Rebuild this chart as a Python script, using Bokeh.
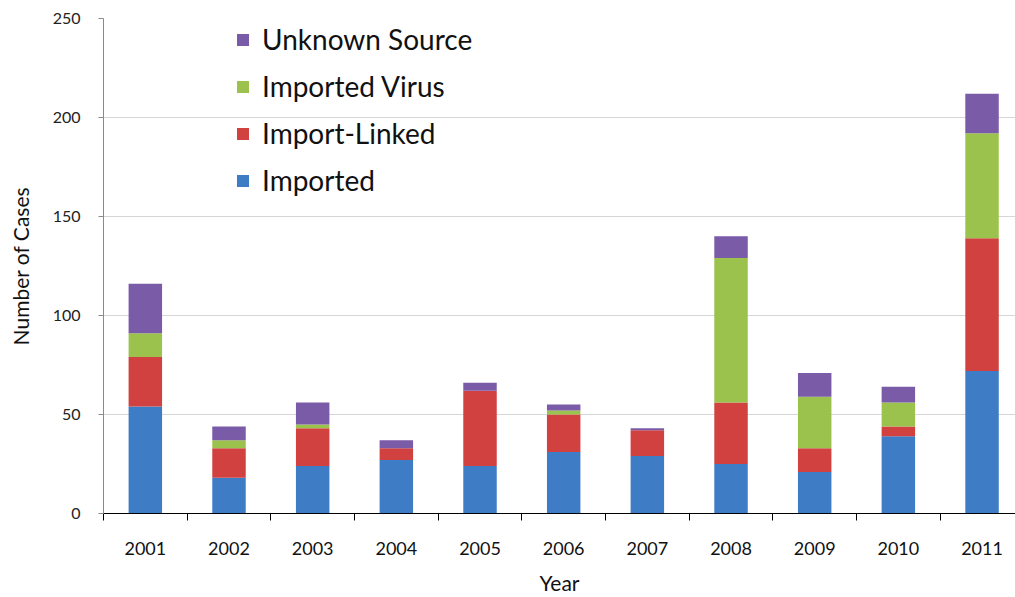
from bokeh.plotting import figure
from bokeh.models import Range1d, FixedTicker, Legend, LegendItem, ColumnDataSource
from bokeh.embed import file_html
from bokeh.resources import INLINE

years = ["2001", "2002", "2003", "2004", "2005", "2006", "2007", "2008", "2009", "2010", "2011"]
imported = [54, 18, 24, 27, 24, 31, 29, 25, 21, 39, 72]
import_linked = [25, 15, 19, 6, 38, 19, 13, 31, 12, 5, 67]
imported_virus = [12, 4, 2, 0, 0, 2, 0, 73, 26, 12, 53]
unknown_source = [25, 7, 11, 4, 4, 3, 1, 11, 12, 8, 20]
series_names = ["Imported", "Import-Linked", "Imported Virus", "Unknown Source"]
y_ticks = [0, 50, 100, 150, 200, 250]

colors = ["#3f7cc6", "#d0413f", "#9bc24c", "#7a5ba8"]
FONT = "Lato"

x = [i + 1 for i in range(len(years))]
src = ColumnDataSource(dict(x=x, imported=imported, import_linked=import_linked,
                            imported_virus=imported_virus, unknown_source=unknown_source))

p = figure(width=1015, height=597, output_backend="svg", toolbar_location=None,
           x_range=Range1d(0.5, 11.4), y_range=Range1d(0, 250),
           min_border_left=103, min_border_right=0, min_border_top=18, min_border_bottom=84)
p.outline_line_color = None
p.background_fill_color = "white"

stack = ["imported", "import_linked", "imported_virus", "unknown_source"]
rs = p.vbar_stack(stack, x="x", width=0.4, color=colors, line_color=None, source=src)

items = [LegendItem(label=series_names[i], renderers=[rs[i]]) for i in range(3, -1, -1)]
legend = Legend(items=items, location=(132, 316))
legend.background_fill_alpha = 0
legend.border_line_color = None
legend.label_text_font = FONT
legend.label_text_font_size = "28px"
legend.label_text_color = "#111111"
legend.glyph_width = 15
legend.glyph_height = 15
legend.label_standoff = 12
legend.spacing = 13
legend.padding = 0
legend.margin = 0
p.add_layout(legend)

# Y axis
p.yaxis.ticker = FixedTicker(ticks=y_ticks, minor_ticks=[])
p.yaxis.axis_line_color = "#8a8a8a"
p.yaxis.major_tick_line_color = "#8a8a8a"
p.yaxis.major_tick_out = 5
p.yaxis.major_tick_in = 0
p.yaxis.minor_tick_out = 0
p.yaxis.major_label_standoff = 18
p.yaxis.major_label_text_font = FONT
p.yaxis.major_label_text_font_size = "16px"
p.yaxis.major_label_text_color = "#222222"
p.yaxis.axis_label = "Number of Cases"
p.yaxis.axis_label_text_font = FONT
p.yaxis.axis_label_text_font_style = "normal"
p.yaxis.axis_label_text_font_size = "21px"
p.yaxis.axis_label_text_color = "#111111"
p.yaxis.axis_label_standoff = 17

# X axis
boundaries = [i + 0.5 for i in range(len(years) + 1)]
p.xaxis.ticker = FixedTicker(ticks=x, minor_ticks=boundaries)
p.xaxis.major_label_overrides = {xi: yr for xi, yr in zip(x, years)}
p.xaxis.axis_line_color = "#000000"
p.xaxis.major_tick_out = 0
p.xaxis.major_tick_in = 0
p.xaxis.minor_tick_out = 7
p.xaxis.minor_tick_in = 0
p.xaxis.minor_tick_line_color = "#000000"
p.xaxis.major_label_standoff = 21
p.xaxis.major_label_text_font = FONT
p.xaxis.major_label_text_font_size = "18px"
p.xaxis.major_label_text_color = "#111111"
p.xaxis.axis_label = "Year"
p.xaxis.axis_label_text_font = FONT
p.xaxis.axis_label_text_font_style = "normal"
p.xaxis.axis_label_text_font_size = "21px"
p.xaxis.axis_label_text_color = "#111111"
p.xaxis.axis_label_standoff = 12

p.xgrid.grid_line_color = None
p.ygrid.grid_line_color = "#d6d6d6"
p.ygrid.grid_line_width = 1

open("out.html", "w").write(file_html(p, INLINE))
